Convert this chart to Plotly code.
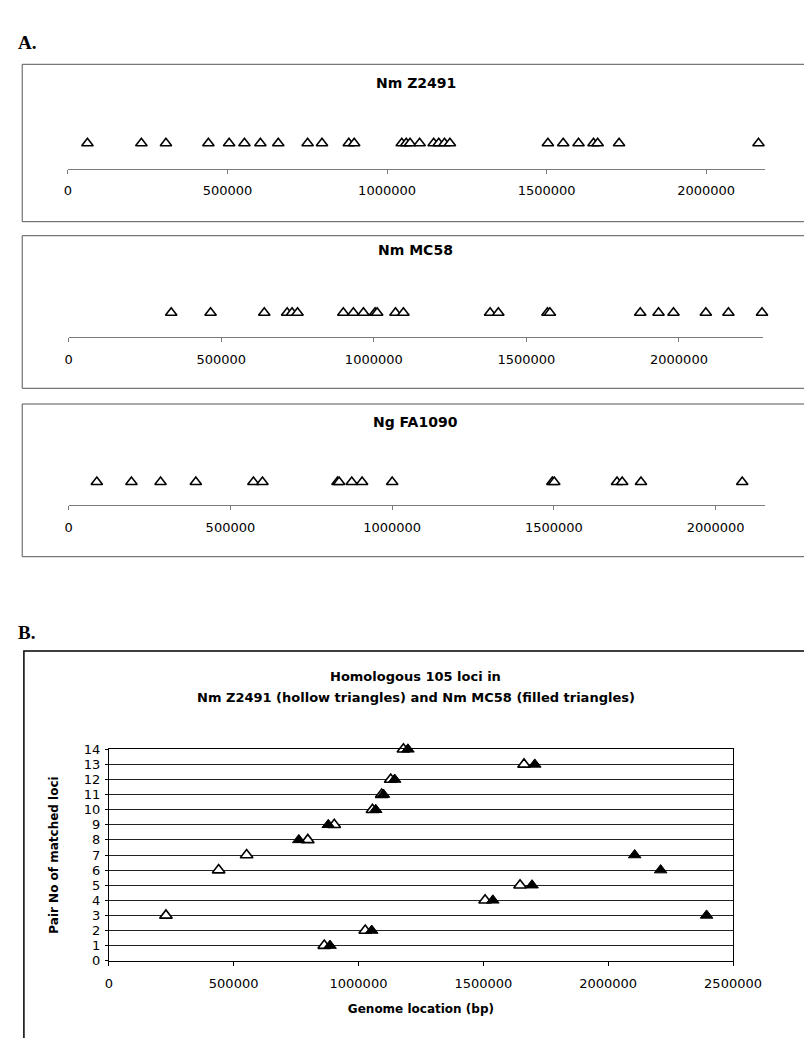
import plotly.graph_objects as go

W, H = 804, 1038

# ---------------- data ----------------
panelA_titles = ["Nm Z2491", "Nm MC58", "Ng FA1090"]

z2491_pos = [61000, 230000, 307000, 440000, 505000, 553000, 603000, 659000,
             751000, 796000, 880000, 897000, 1046000, 1060000, 1072000,
             1102000, 1146000, 1162000, 1180000, 1197000, 1504000, 1552000,
             1600000, 1647000, 1660000, 1727000, 2164000]

mc58_pos = [336000, 465000, 641000, 716000, 732000, 750000, 900000, 933000,
            966000, 1004000, 1011000, 1071000, 1097000, 1381000, 1408000,
            1569000, 1577000, 1873000, 1933000, 1982000, 2088000, 2162000,
            2272000]

fa1090_pos = [87000, 194000, 284000, 393000, 571000, 599000, 831000, 836000,
              875000, 907000, 1000000, 1495000, 1501000, 1695000, 1711000,
              1769000, 2082000]

panelA_ranges = [2185000, 2276000, 2153000]
xticks_A = [0, 500000, 1000000, 1500000, 2000000]

pair_no = [1, 2, 3, 4, 5, 6, 7, 8, 9, 10, 11, 12, 13, 14]
z2491_pair_pos = [863000, 1027000, 229000, 1507000, 1647000, 440000, 552000,
                  797000, 903000, 1056000, 1093000, 1129000, 1663000, 1180000]
mc58_pair_pos = [886000, 1053000, 2394000, 1538000, 1695000, 2210000, 2106000,
                 761000, 879000, 1069000, 1100000, 1145000, 1706000, 1198000]
xticks_B = [0, 500000, 1000000, 1500000, 2000000, 2500000]
yticks_B = list(range(0, 15))

# ---------------- helpers ----------------
def fx(p):
    return p / W

def fy(p):
    return 1 - p / H

FONT = "DejaVu Sans"
fig = go.Figure()

# ---------------- Panel A ----------------
a_positions = [z2491_pos, mc58_pos, fa1090_pos]
# (axis line y px, triangle y px, x start px, x end px, title y px, box top, box bottom)
a_layout = [
    (168.7, 143.3, 64.3, 765.0, 83.0, 64.3, 221.7),
    (337.0, 312.7, 65.0, 763.0, 250.0, 235.7, 388.3),
    (505.0, 482.0, 65.0, 765.0, 422.0, 404.0, 556.7),
]

shapes = []
annotations = []
for i, (pos, lay) in enumerate(zip(a_positions, a_layout)):
    axis_y, tri_y, x0, x1, title_y, btop, bbot = lay
    n = i + 1
    xa = "x" if n == 1 else f"x{n}"
    ya = "y" if n == 1 else f"y{n}"
    fig.add_trace(go.Scatter(
        x=pos, y=[1] * len(pos), mode="markers", xaxis=xa, yaxis=ya,
        marker=dict(symbol="triangle-up", size=10, color="white",
                    line=dict(color="black", width=1.6)),
        cliponaxis=False, showlegend=False, hoverinfo="x"))
    d = 2 * (axis_y - tri_y)
    key = "" if n == 1 else str(n)
    fig.layout["xaxis" + key] = dict(
        domain=[fx(x0), fx(x1)], range=[0, panelA_ranges[i]], anchor=ya,
        showline=True, linecolor="#7a7a7a", linewidth=1,
        ticks="outside", ticklen=4, tickcolor="#7a7a7a",
        tickvals=xticks_A, ticktext=[str(v) for v in xticks_A],
        tickfont=dict(family=FONT, size=13, color="black"),
        ticklabelstandoff=6,
        showgrid=False, zeroline=False, fixedrange=True)
    fig.layout["yaxis" + key] = dict(
        domain=[fy(axis_y), fy(axis_y - d)], range=[0, 2], anchor=xa,
        visible=False, fixedrange=True)
    annotations.append(dict(
        text="<b>" + panelA_titles[i] + "</b>", x=fx(414), y=fy(title_y),
        xref="paper", yref="paper", showarrow=False, xanchor="center",
        yanchor="middle", font=dict(family=FONT, size=14, color="black")))
    shapes.append(dict(type="rect", xref="paper", yref="paper",
                       x0=fx(18.3), x1=fx(830), y0=fy(bbot), y1=fy(btop),
                       line=dict(color="#555555", width=1)))

# ---------------- Panel B ----------------
fig.add_trace(go.Scatter(
    x=z2491_pair_pos, y=pair_no, mode="markers", xaxis="x4", yaxis="y4",
    name="Nm Z2491",
    marker=dict(symbol="triangle-up", size=11, color="white",
                line=dict(color="black", width=1.6)),
    cliponaxis=False, showlegend=False))
fig.add_trace(go.Scatter(
    x=mc58_pair_pos, y=pair_no, mode="markers", xaxis="x4", yaxis="y4",
    name="Nm MC58",
    marker=dict(symbol="triangle-up", size=11, color="black",
                line=dict(color="black", width=1)),
    cliponaxis=False, showlegend=False))

fig.layout["xaxis4"] = dict(
    domain=[fx(105.3), fx(732.7)], range=[0, 2500000], anchor="y4",
    showline=True, mirror=True, linecolor="black", linewidth=1,
    ticks="outside", ticklen=4, tickcolor="black",
    tickvals=xticks_B, ticktext=[str(v) for v in xticks_B],
    tickfont=dict(family=FONT, size=13, color="black"),
    ticklabelstandoff=7,
    showgrid=False, zeroline=False, fixedrange=True,
    title=dict(text="<b>Genome location (bp)</b>",
               font=dict(family=FONT, size=12, color="black"), standoff=14),
    automargin=False)
fig.layout["yaxis4"] = dict(
    domain=[fy(960.7), fy(749.3)], range=[0, 14], anchor="x4",
    showline=True, mirror=True, linecolor="black", linewidth=1,
    ticks="outside", ticklen=3, tickcolor="black",
    tickvals=yticks_B, ticktext=[str(v) for v in yticks_B],
    tickfont=dict(family=FONT, size=13, color="black"),
    ticklabelstandoff=2,
    showgrid=True, gridcolor="#222222", gridwidth=1,
    zeroline=False, fixedrange=True,
    title=dict(text="<b>Pair No of matched loci</b>",
               font=dict(family=FONT, size=12, color="black"), standoff=22),
    automargin=False)

annotations.append(dict(
    text="<b>Homologous 105 loci in</b>", x=fx(414), y=fy(676),
    xref="paper", yref="paper", showarrow=False, xanchor="center",
    yanchor="middle", font=dict(family=FONT, size=13, color="black")))
annotations.append(dict(
    text="<b>Nm Z2491 (hollow triangles) and Nm MC58 (filled triangles)</b>",
    x=fx(414), y=fy(697), xref="paper", yref="paper", showarrow=False,
    xanchor="center", yanchor="middle",
    font=dict(family=FONT, size=13, color="black")))
shapes.append(dict(type="rect", xref="paper", yref="paper",
                   x0=fx(20), x1=fx(830), y0=fy(1060), y1=fy(651),
                   line=dict(color="black", width=1.5)))

# panel letters
annotations.append(dict(
    text="<b>A.</b>", x=fx(12), y=fy(42), xref="paper", yref="paper",
    showarrow=False, xanchor="left", yanchor="middle",
    font=dict(family="Liberation Serif", size=19, color="black")))
annotations.append(dict(
    text="<b>B.</b>", x=fx(12), y=fy(632), xref="paper", yref="paper",
    showarrow=False, xanchor="left", yanchor="middle",
    font=dict(family="Liberation Serif", size=19, color="black")))

fig.update_layout(
    width=W, height=H, margin=dict(l=0, r=0, t=0, b=0),
    paper_bgcolor="white", plot_bgcolor="white",
    shapes=shapes, annotations=annotations, showlegend=False,
    font=dict(family=FONT, color="black"))

fig.write_html("out.html",
               config={"displayModeBar": False},
               post_script="document.body.style.margin='0';"
                           "document.body.style.overflow='hidden';")
